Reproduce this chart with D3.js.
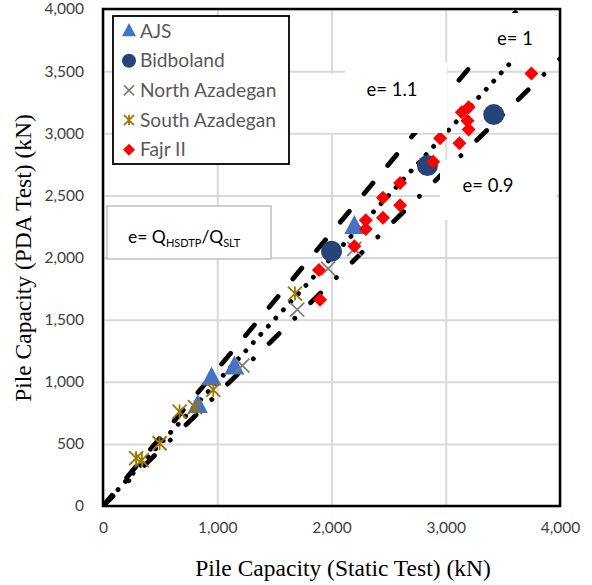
<!DOCTYPE html>
<html>
<head>
<meta charset="utf-8">
<script src="https://cdn.jsdelivr.net/npm/d3@7/dist/d3.min.js"></script>
<style>
  html, body { margin: 0; padding: 0; background: #fff; }
  svg { display: block; }
</style>
</head>
<body>
<svg id="chart" width="592" height="585"></svg>
<script>
// Axis ticks (kN)
const xTicks = [0, 1000, 2000, 3000, 4000];
const yTicks = [0, 500, 1000, 1500, 2000, 2500, 3000, 3500, 4000];

// Series: static load test capacity vs. PDA capacity (kN)
const seriesNames = ["AJS", "Bidboland", "North Azadegan", "South Azadegan", "Fajr II"];

const ajsStatic = [830, 950, 1150, 2200];
const ajsPDA    = [810, 1030, 1120, 2250];

const bidbolandStatic = [2000, 2840, 3420];
const bidbolandPDA    = [2050, 2740, 3150];

const northStatic = [1220, 1700, 1970, 2200];
const northPDA    = [1130, 1580, 1910, 2070];

const southStatic = [290, 340, 495, 670, 805, 965, 1680];
const southPDA    = [385, 370, 505, 760, 795, 935, 1710];

const fajrStatic = [1900, 1890, 2200, 2300, 2300, 2450, 2450, 2600, 2600, 2890, 2950, 3120, 3140, 3200, 3190, 3200, 3750];
const fajrPDA    = [1660, 1900, 2090, 2230, 2300, 2320, 2480, 2420, 2600, 2770, 2960, 2920, 3170, 3210, 3100, 3030, 3480];

// Reference ratio lines e = Q_HSDTP / Q_SLT
const ratioValues = [1.1, 1, 0.9];
const ratioLabels = ["e= 1.1", "e= 1", "e= 0.9"];

const W = 592, H = 585;
const margin = { left: 103, right: 32, top: 9, bottom: 79 };
const svg = d3.select("#chart");

const x = d3.scaleLinear().domain([0, 4000]).range([margin.left, W - margin.right]);
const y = d3.scaleLinear().domain([0, 4000]).range([H - margin.bottom, margin.top]);

const fmt = d3.format(",");
const sans = "Lato, 'Open Sans', sans-serif";
const serif = "'Liberation Serif', 'Times New Roman', serif";

// Gridlines
svg.append("g")
  .attr("transform", `translate(0,${y(0)})`)
  .call(d3.axisBottom(x).tickValues(xTicks).tickSize(-(y(0) - y(4000))).tickFormat(""))
  .call(g => g.select(".domain").remove())
  .call(g => g.selectAll("line").attr("stroke", "#d9d9d9").attr("stroke-width", 2));

svg.append("g")
  .attr("transform", `translate(${x(0)},0)`)
  .call(d3.axisLeft(y).tickValues(yTicks).tickSize(-(x(4000) - x(0))).tickFormat(""))
  .call(g => g.select(".domain").remove())
  .call(g => g.selectAll("line").attr("stroke", "#d9d9d9").attr("stroke-width", 2));

// Tick labels
svg.append("g")
  .attr("transform", `translate(0,${y(0)})`)
  .call(d3.axisBottom(x).tickValues(xTicks).tickSize(0).tickPadding(16).tickFormat(fmt))
  .call(g => g.select(".domain").remove())
  .call(g => g.selectAll("text").attr("font-family", sans).attr("font-size", 15.5).attr("fill", "#404040"));

svg.append("g")
  .attr("transform", `translate(${x(0)},0)`)
  .call(d3.axisLeft(y).tickValues(yTicks).tickSize(0).tickPadding(19).tickFormat(fmt))
  .call(g => g.select(".domain").remove())
  .call(g => g.selectAll("text").attr("font-family", sans).attr("font-size", 15.5).attr("fill", "#404040"));

// Clip for the plot area
svg.append("clipPath").attr("id", "plot-clip")
  .append("rect")
  .attr("x", x(0)).attr("y", y(4000))
  .attr("width", x(4000) - x(0)).attr("height", y(0) - y(4000));

// Ratio lines
const dashStyles = {
  "1.1": "14,23",
  "1":   "0.1,11",
  "0.9": "14,22,0.1,22"
};
const lineGen = d3.line().x(d => x(d[0])).y(d => y(d[1]));
const linesG = svg.append("g").attr("clip-path", "url(#plot-clip)");
ratioValues.forEach(e => {
  const end = e >= 1 ? [4000 / e, 4000] : [4000, 4000 * e];
  linesG.append("path")
    .datum([[0, 0], end])
    .attr("d", lineGen)
    .attr("fill", "none")
    .attr("stroke", "#000")
    .attr("stroke-width", 4.8)
    .attr("stroke-linecap", "round")
    .attr("stroke-dasharray", dashStyles[String(e)]);
});

// Marker symbols
const markerDefs = {
  "AJS":            { color: "#4472C4", kind: "triangle" },
  "Bidboland":      { color: "#264478", kind: "circle" },
  "North Azadegan": { color: "#7F7F7F", kind: "cross" },
  "South Azadegan": { color: "#9C7700", kind: "star" },
  "Fajr II":        { color: "#FF0000", kind: "diamond" }
};

function drawMarker(g, kind, color, cx, cy, s) {
  if (kind === "triangle") {
    const h = s * 0.95;
    g.append("path")
      .attr("d", `M${cx},${cy - h * 0.6}L${cx + s / 2},${cy + h * 0.4}L${cx - s / 2},${cy + h * 0.4}Z`)
      .attr("fill", color);
  } else if (kind === "circle") {
    g.append("circle").attr("cx", cx).attr("cy", cy).attr("r", s / 2).attr("fill", color);
  } else if (kind === "diamond") {
    const r = s / 2;
    g.append("path")
      .attr("d", `M${cx},${cy - r}L${cx + r},${cy}L${cx},${cy + r}L${cx - r},${cy}Z`)
      .attr("fill", color);
  } else if (kind === "cross") {
    const r = s / 2;
    g.append("path")
      .attr("d", `M${cx - r},${cy - r}L${cx + r},${cy + r}M${cx - r},${cy + r}L${cx + r},${cy - r}`)
      .attr("stroke", color).attr("stroke-width", 1.8).attr("fill", "none");
  } else if (kind === "star") {
    const r = s / 2;
    g.append("path")
      .attr("d", `M${cx - r},${cy - r}L${cx + r},${cy + r}M${cx - r},${cy + r}L${cx + r},${cy - r}M${cx},${cy - r}L${cx},${cy + r}`)
      .attr("stroke", color).attr("stroke-width", 1.8).attr("fill", "none");
  }
}

const seriesData = [
  { name: "AJS",            xs: ajsStatic,       ys: ajsPDA,       size: 20 },
  { name: "Bidboland",      xs: bidbolandStatic, ys: bidbolandPDA, size: 21 },
  { name: "North Azadegan", xs: northStatic,     ys: northPDA,     size: 14 },
  { name: "South Azadegan", xs: southStatic,     ys: southPDA,     size: 14 },
  { name: "Fajr II",        xs: fajrStatic,      ys: fajrPDA,      size: 14 }
];

const pointsG = svg.append("g");
seriesData.forEach(s => {
  const def = markerDefs[s.name];
  const g = pointsG.append("g").attr("class", "series");
  s.xs.forEach((v, i) => drawMarker(g, def.kind, def.color, x(v), y(s.ys[i]), s.size));
});

// Ratio labels, each sitting on white backing rectangles
const labelBoxes = [
  { text: ratioLabels[0], boxes: [[345, 62, 102, 12], [326, 74, 121, 59]], tx: 392, ty: 96 },
  { text: ratioLabels[1], boxes: [[455, 13, 101, 46]], tx: 515, ty: 45 },
  { text: ratioLabels[2], boxes: [[440, 160, 116, 60]], tx: 488, ty: 192 }
];
labelBoxes.forEach(l => {
  l.boxes.forEach(b => {
    svg.append("rect")
      .attr("x", b[0]).attr("y", b[1]).attr("width", b[2]).attr("height", b[3])
      .attr("fill", "#fff");
  });
  svg.append("text")
    .attr("x", l.tx).attr("y", l.ty)
    .attr("text-anchor", "middle")
    .attr("font-family", sans).attr("font-size", 18.5)
    .attr("fill", "#000")
    .text(l.text);
});

// Plot frame
svg.append("rect")
  .attr("x", x(0)).attr("y", y(4000))
  .attr("width", x(4000) - x(0)).attr("height", y(0) - y(4000))
  .attr("fill", "none").attr("stroke", "#000").attr("stroke-width", 2.5);

// Legend
const legend = svg.append("g");
legend.append("rect")
  .attr("x", 113).attr("y", 16).attr("width", 176).attr("height", 148)
  .attr("fill", "#fff").attr("stroke", "#000").attr("stroke-width", 1.8);
const legendSizes = { "AJS": 14, "Bidboland": 14, "North Azadegan": 10, "South Azadegan": 10, "Fajr II": 12 };
seriesNames.forEach((name, i) => {
  const cy = 31 + i * 29.7;
  const def = markerDefs[name];
  drawMarker(legend, def.kind, def.color, 129, cy, legendSizes[name]);
  legend.append("text")
    .attr("x", 140).attr("y", cy + 6.5)
    .attr("font-family", sans).attr("font-size", 19.2)
    .attr("fill", "#595959")
    .text(name);
});

// Ratio definition box
const defG = svg.append("g");
defG.append("rect")
  .attr("x", 107).attr("y", 206).attr("width", 164).attr("height", 53)
  .attr("fill", "#fff").attr("stroke", "#bfbfbf").attr("stroke-width", 1.5);
const defText = defG.append("text")
  .attr("x", 128).attr("y", 243)
  .attr("font-family", sans).attr("font-size", 17.5).attr("fill", "#000");
defText.append("tspan").text("e= Q");
defText.append("tspan").attr("font-size", 11).attr("dy", 4).text("HSDTP");
defText.append("tspan").attr("dy", -4).text("/Q");
defText.append("tspan").attr("font-size", 11).attr("dy", 4).text("SLT");

// Axis titles
svg.append("text")
  .attr("x", 343).attr("y", 576)
  .attr("text-anchor", "middle")
  .attr("font-family", serif).attr("font-size", 23.5).attr("fill", "#000")
  .text("Pile Capacity (Static Test) (kN)");

svg.append("text")
  .attr("transform", `translate(31,258) rotate(-90)`)
  .attr("text-anchor", "middle")
  .attr("font-family", serif).attr("font-size", 23.5).attr("fill", "#000")
  .text("Pile Capacity (PDA Test) (kN)");
</script>
</body>
</html>
